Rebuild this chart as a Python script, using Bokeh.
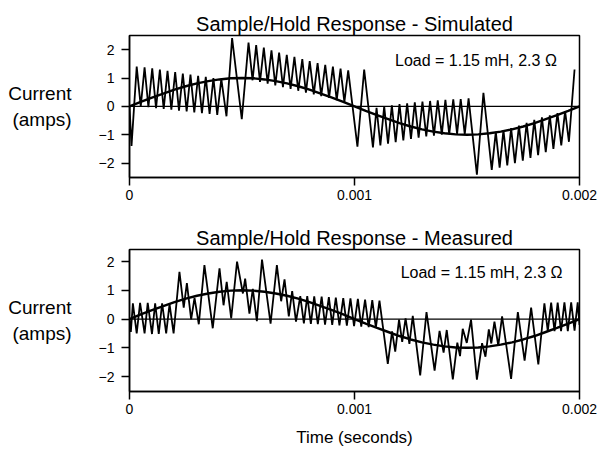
from bokeh.plotting import figure
from bokeh.layouts import column
from bokeh.models import Span, Label, FixedTicker
from bokeh.embed import file_html
from bokeh.resources import INLINE

FONT = "Liberation Sans"

# ---------------- data (time in ms, current in amps) ----------------
x_ticks = [0, 1, 2]
x_tick_labels = {0: "0", 1: "0.001", 2: "0.002"}
y_ticks = [-2, -1, 0, 1, 2]

ref_t = [0.00, 0.05, 0.10, 0.15, 0.20, 0.25, 0.30, 0.35, 0.40, 0.45,
         0.50, 0.55, 0.60, 0.65, 0.70, 0.75, 0.80, 0.85, 0.90, 0.95,
         1.00, 1.05, 1.10, 1.15, 1.20, 1.25, 1.30, 1.35, 1.40, 1.45,
         1.50, 1.55, 1.60, 1.65, 1.70, 1.75, 1.80, 1.85, 1.90, 1.95, 2.00]
ref_i = [0.00, 0.16, 0.31, 0.45, 0.59, 0.71, 0.81, 0.89, 0.95, 0.99,
         1.00, 0.99, 0.95, 0.89, 0.81, 0.71, 0.59, 0.45, 0.31, 0.16,
         0.00, -0.16, -0.31, -0.45, -0.59, -0.71, -0.81, -0.89, -0.95, -0.99,
         -1.00, -0.99, -0.95, -0.89, -0.81, -0.71, -0.59, -0.45, -0.31, -0.16, 0.00]

sim_t = [0.000, 0.009, 0.032, 0.050, 0.067, 0.084, 0.101, 0.118, 0.135, 0.152,
         0.169, 0.186, 0.203, 0.220, 0.237, 0.254, 0.271, 0.288, 0.305, 0.322,
         0.339, 0.356, 0.373, 0.390, 0.408, 0.431, 0.456, 0.499,
         0.529, 0.547, 0.563, 0.580, 0.597, 0.614, 0.631, 0.648, 0.665, 0.682,
         0.699, 0.716, 0.733, 0.750, 0.768, 0.784, 0.801, 0.819, 0.836, 0.852,
         0.870, 0.887, 0.904, 0.921, 0.938, 0.955, 0.972, 1.013, 1.043, 1.082,
         1.098, 1.115, 1.132, 1.149, 1.166, 1.183, 1.200, 1.217, 1.234, 1.251,
         1.268, 1.285, 1.302, 1.319, 1.336, 1.353, 1.370, 1.388, 1.404, 1.421,
         1.439, 1.456, 1.472, 1.490, 1.507, 1.544, 1.573, 1.610,
         1.628, 1.645, 1.662, 1.679, 1.696, 1.713, 1.731, 1.748, 1.765, 1.782,
         1.799, 1.816, 1.833, 1.850, 1.868, 1.884, 1.902, 1.919, 1.936, 1.953, 1.978]
sim_i = [0.00, -1.40, 1.40, 0.00, 1.38, -0.03, 1.34, -0.06, 1.30, -0.09,
         1.25, -0.12, 1.21, -0.15, 1.16, -0.18, 1.12, -0.21, 1.08, -0.24,
         1.04, -0.27, 1.00, -0.30, 0.97, -0.35, 2.41, -0.45,
         2.25, 0.92, 2.16, 0.86, 2.07, 0.80, 1.98, 0.74, 1.90, 0.68,
         1.82, 0.62, 1.75, 0.55, 1.67, 0.48, 1.60, 0.42, 1.53, 0.36,
         1.46, 0.30, 1.40, 0.22, 1.33, 0.15, 1.27, -1.42, 1.30, -1.45,
         -0.05, -1.38, 0.00, -1.32, 0.04, -1.26, 0.08, -1.20, 0.11, -1.15,
         0.14, -1.10, 0.17, -1.06, 0.19, -1.03, 0.21, -1.00, 0.23, -0.98,
         0.25, -0.97, 0.26, -0.98, 0.28, -2.41, 0.48, -2.24,
         -0.90, -2.16, -0.84, -2.08, -0.77, -2.00, -0.68, -1.92, -0.58, -1.82,
         -0.48, -1.72, -0.39, -1.62, -0.32, -1.50, -0.24, -1.38, -0.17, -1.25, 1.30]

meas_t = [0.000, 0.006, 0.015, 0.032, 0.047, 0.067, 0.081, 0.100, 0.114, 0.130,
          0.145, 0.163, 0.178, 0.196,
          0.222, 0.241, 0.255, 0.274, 0.289, 0.308, 0.333, 0.370, 0.400, 0.418,
          0.432, 0.452, 0.478, 0.504, 0.514, 0.533, 0.548, 0.566, 0.589, 0.627,
          0.655, 0.674, 0.689, 0.708, 0.723, 0.740,
          0.759, 0.775, 0.790, 0.806, 0.821, 0.837, 0.854, 0.869, 0.886, 0.901,
          0.917, 0.933, 0.950, 0.966, 0.982, 0.998, 1.015, 1.030, 1.047, 1.063,
          1.079, 1.095, 1.111,
          1.148, 1.167, 1.181, 1.198, 1.212, 1.227, 1.244, 1.259, 1.292, 1.320,
          1.356, 1.378, 1.396, 1.410, 1.437, 1.457, 1.469, 1.481, 1.499, 1.518,
          1.544, 1.567, 1.582, 1.597, 1.608, 1.622, 1.639, 1.656, 1.696, 1.726,
          1.756, 1.785, 1.817,
          1.844, 1.859, 1.874, 1.889, 1.903, 1.918, 1.933, 1.948, 1.963, 1.978,
          1.992, 2.000]
meas_i = [0.00, -0.45, 0.55, -0.50, 0.56, -0.50, 0.56, -0.52, 0.55, -0.52,
          0.55, -0.50, 0.52, -0.50,
          1.64, 0.40, 1.25, -0.01, 0.74, -0.18, 1.88, -0.32, 1.76, 0.48,
          1.29, 0.02, 2.00, 0.89, 1.41, 0.19, 1.05, -0.07, 2.07, -0.16,
          1.88, 0.62, 1.38, 0.09, 0.97, -0.09,
          0.80, -0.15, 0.80, -0.17, 0.79, -0.18, 0.78, -0.19, 0.76, -0.20,
          0.75, -0.22, 0.73, -0.23, 0.72, -0.25, 0.70, -0.26, 0.68, -0.28,
          0.66, -0.30, 0.64,
          -1.56, -0.43, -1.13, -0.02, -0.79, 0.02, -0.86, 0.11, -1.96, 0.24,
          -1.79, -0.41, -1.17, -0.38, -2.10, -0.82, -1.29, -0.34, -0.83, -0.02,
          -2.11, -0.84, -1.31, -0.36, -0.85, -0.09, -0.92, 0.09, -2.08, 0.24,
          -1.45, 0.40, -1.58,
          0.55, -0.42, 0.57, -0.42, 0.57, -0.42, 0.58, -0.42, 0.58, -0.40,
          0.58, -0.20]

load_text = "Load = 1.15 mH, 2.3 \u03a9"
y_label = "Current\n(amps)"


def make_fig(title, height, b_top, b_bottom, y_range):
    p = figure(width=600, height=height, x_range=(0, 2), y_range=y_range,
               output_backend="svg", toolbar_location=None,
               min_border_left=129, min_border_right=21,
               min_border_top=b_top, min_border_bottom=b_bottom,
               title=title, background_fill_color="white",
               border_fill_color="white")
    p.title.text_font = FONT
    p.title.text_font_size = "20px"
    p.title.text_font_style = "normal"
    p.title.align = "center"
    p.title.text_color = "black"
    p.title.standoff = 1
    p.xgrid.visible = False
    p.ygrid.visible = False
    p.outline_line_color = "black"
    p.outline_line_width = 1.5
    for ax in (p.xaxis, p.yaxis):
        ax.axis_line_color = "black"
        ax.axis_line_width = 1.5
        ax.major_tick_line_color = "black"
        ax.major_tick_line_width = 1.5
        ax.major_tick_in = 0
        ax.major_tick_out = 8
        ax.minor_tick_line_color = None
        ax.major_label_text_font = FONT
        ax.major_label_text_font_size = "14px"
        ax.major_label_text_color = "black"
        ax.major_label_standoff = 4
    p.yaxis.major_label_standoff = 7
    p.xaxis.ticker = FixedTicker(ticks=x_ticks)
    p.xaxis.major_label_overrides = x_tick_labels
    p.yaxis.ticker = FixedTicker(ticks=y_ticks)
    p.yaxis.axis_label = y_label
    p.yaxis.axis_label_orientation = "horizontal"
    p.yaxis.axis_label_text_font = FONT
    p.yaxis.axis_label_text_font_size = "19px"
    p.yaxis.axis_label_text_font_style = "normal"
    p.yaxis.axis_label_text_color = "black"
    p.yaxis.axis_label_text_align = "center"
    p.yaxis.axis_label_standoff = 24
    p.add_layout(Span(location=0, dimension="width", line_color="black",
                      line_width=1.3))
    return p


p1 = make_fig("Sample/Hold Response - Simulated", 215, 35, 38, (-2.51, 2.5))
p1.line(ref_t, ref_i, line_color="black", line_width=2.4)
p1.line(sim_t, sim_i, line_color="black", line_width=1.8)
p1.add_layout(Label(x=1.18, y=1.63, text=load_text, text_font=FONT,
                    text_font_size="16px", text_baseline="middle",
                    text_color="black"))

p2 = make_fig("Sample/Hold Response - Measured", 237, 34, 61, (-2.52, 2.42))
p2.line(ref_t, ref_i, line_color="black", line_width=2.4)
p2.line(meas_t, meas_i, line_color="black", line_width=1.8)
p2.add_layout(Label(x=1.205, y=1.62, text=load_text, text_font=FONT,
                    text_font_size="16px", text_baseline="middle",
                    text_color="black"))
p2.xaxis.axis_label = "Time (seconds)"
p2.xaxis.axis_label_text_font = FONT
p2.xaxis.axis_label_text_font_size = "17px"
p2.xaxis.axis_label_text_font_style = "normal"
p2.xaxis.axis_label_text_color = "black"
p2.xaxis.axis_label_standoff = 11

layout = column(p1, p2, spacing=0)
open("out.html", "w").write(file_html(layout, INLINE))
